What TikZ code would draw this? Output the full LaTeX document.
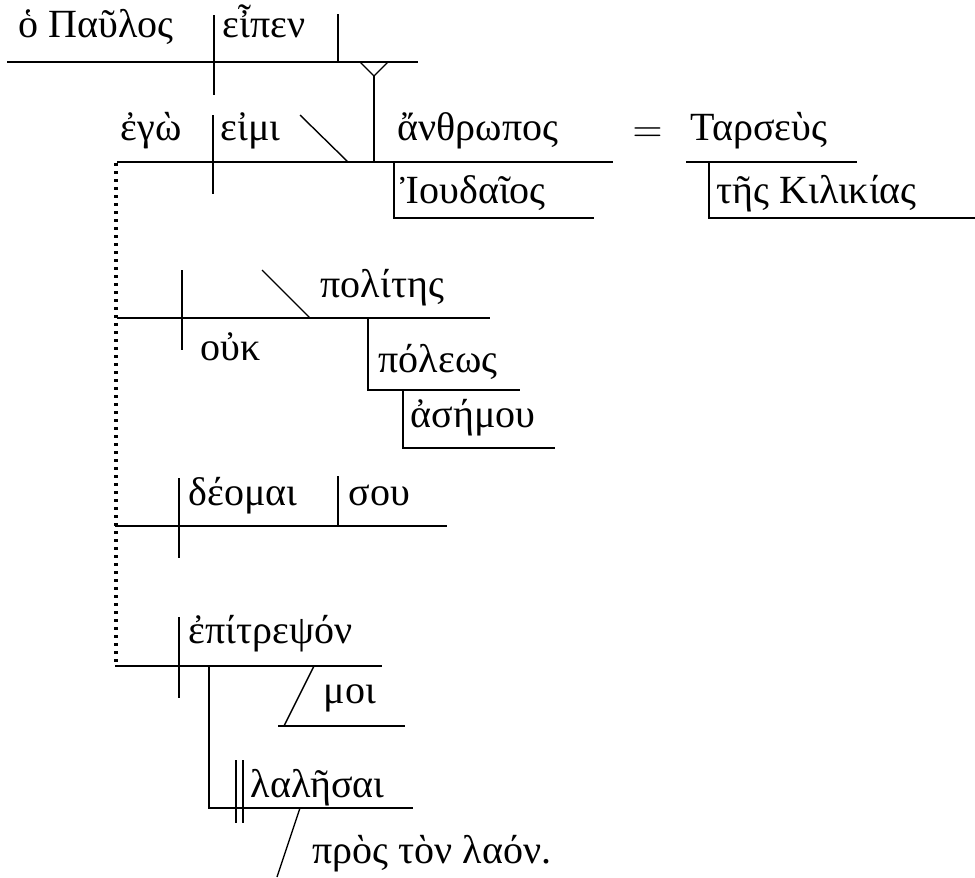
\documentclass[tikz,border=0pt]{standalone}
\usepackage{fontspec}
\setmainfont{Liberation Serif}
\usetikzlibrary{positioning}

\begin{document}
\begin{tikzpicture}[x=0.5pt, y=-0.5pt, line width=0.7pt,
    word/.style={anchor=base west, inner sep=0pt, font=\fontsize{20}{22}\selectfont},
    dots/.style={line width=1.8pt, dash pattern=on 1.4pt off 2.6pt}]
  \useasboundingbox (0,0) rectangle (975,878);

  % main clause
  \node[word] (paulos) at (18,37) {ὁ Παῦλος};
  \node[word] (eipen) at (222,37) {εἶπεν};
  \draw (7,62) -- (418,62);
  \draw (214,15) -- (214,95);
  \draw (338,14) -- (338,62);
  \draw (360,62) -- (374,76) -- (388,62);
  \draw (374,76) -- (374,162);

  % object clause
  \node[word] (ego) at (120,140) {ἐγὼ};
  \node[word] (eimi) at (220,140) {εἰμι};
  \node[word] (anthropos) at (397,140) {ἄνθρωπος};
  \node[word] (eq) at (632,142) {$=$};
  \node[word] (tarseus) at (690,140) {Ταρσεὺς};
  \node[word] (ioudaios) at (400,203) {Ἰουδαῖος};
  \node[word] (kilikias) at (716,203) {τῆς Κιλικίας};
  \draw (117,162) -- (613,162);
  \draw (213,115) -- (213,194);
  \draw (300,115) -- (348,162);
  \draw (394,162) -- (394,218) -- (594,218);
  \draw (686,162) -- (857,162);
  \draw (709,162) -- (709,218) -- (975,218);

  % dotted link
  \draw[dots] (116,163) -- (116,666);

  % second clause
  \node[word] (ouk) at (200,360) {οὐκ};
  \node[word] (polites) at (320,297) {πολίτης};
  \node[word] (poleos) at (378,372) {πόλεως};
  \node[word] (asemou) at (410,427) {ἀσήμου};
  \draw (117,318) -- (490,318);
  \draw (182,270) -- (182,350);
  \draw (262,270) -- (310,318);
  \draw (368,318) -- (368,390) -- (520,390);
  \draw (403,390) -- (403,448) -- (555,448);

  % third clause
  \node[word] (deomai) at (188,505) {δέομαι};
  \node[word] (sou) at (348,505) {σου};
  \draw (115,526) -- (447,526);
  \draw (179,478) -- (179,558);
  \draw (338,476) -- (338,526);

  % fourth clause
  \node[word] (epitrepson) at (188,643) {ἐπίτρεψόν};
  \node[word] (moi) at (323,703) {μοι};
  \node[word] (lalesai) at (250,797) {λαλῆσαι};
  \node[word] (pros) at (312,863) {πρὸς τὸν λαόν.};
  \draw (115,666) -- (382,666);
  \draw (179,617) -- (179,698);
  \draw (314,666) -- (284,726);
  \draw (278,726) -- (405,726);
  \draw (209,666) -- (209,808) -- (413,808);
  \draw (236,760) -- (236,823);
  \draw (243,760) -- (243,823);
  \draw (300,808) -- (277,877);
\end{tikzpicture}
\end{document}
